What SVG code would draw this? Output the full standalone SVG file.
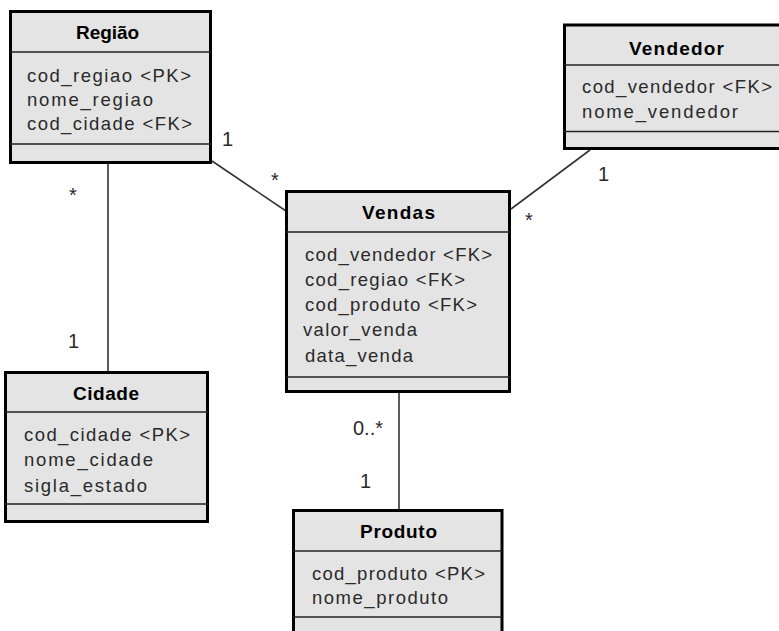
<svg xmlns="http://www.w3.org/2000/svg" width="779" height="631" viewBox="0 0 779 631">
<style>
.box{fill:#e4e4e4;stroke:#000;stroke-width:3}
.div{stroke:#222;stroke-width:1.5}
.title{font-family:"Liberation Sans",Arial,sans-serif;font-size:19px;font-weight:bold;fill:#000;text-anchor:middle}
.attr{font-family:"Liberation Sans",Arial,sans-serif;font-size:18.5px;fill:#2a2a2a}
.mult{font-family:"Liberation Sans",Arial,sans-serif;font-size:20px;fill:#2a2a2a}
.conn{stroke:#333;stroke-width:1.6;fill:none}
</style>
<rect width="779" height="631" fill="#fff"/>
<g id="connectors">
<line class="conn" x1="108" y1="164" x2="108" y2="371"/>
<line class="conn" x1="212" y1="161" x2="286" y2="211"/>
<line class="conn" x1="590" y1="150" x2="511" y2="209"/>
<line class="conn" x1="399" y1="393" x2="399" y2="509"/>
<text class="mult" x="222" y="146">1</text>
<text class="mult" x="271" y="187">*</text>
<text class="mult" x="69" y="202">*</text>
<text class="mult" x="68" y="348">1</text>
<text class="mult" x="598" y="181">1</text>
<text class="mult" x="525" y="227">*</text>
<text class="mult" x="353" y="435">0..*</text>
<text class="mult" x="360" y="488">1</text>
</g>
<g id="regiao">
<rect class="box" x="10.5" y="11.5" width="200" height="151"/>
<line class="div" x1="10" y1="52" x2="211" y2="52"/>
<line class="div" x1="10" y1="144" x2="211" y2="144"/>
<text class="title" x="107.5" y="39" textLength="63" lengthAdjust="spacing">Região</text>
<text class="attr" x="27" y="82" textLength="164" lengthAdjust="spacing">cod_regiao &lt;PK&gt;</text>
<text class="attr" x="27" y="106" textLength="126" lengthAdjust="spacing">nome_regiao</text>
<text class="attr" x="27" y="130" textLength="165" lengthAdjust="spacing">cod_cidade &lt;FK&gt;</text>
</g>
<g id="vendedor">
<rect class="box" x="564.5" y="25" width="230" height="123.5"/>
<line class="div" x1="564" y1="65" x2="790" y2="65"/>
<line class="div" x1="564" y1="131.5" x2="790" y2="131.5"/>
<text class="title" x="676.5" y="55" textLength="95" lengthAdjust="spacing">Vendedor</text>
<text class="attr" x="582" y="93" textLength="190" lengthAdjust="spacing">cod_vendedor &lt;FK&gt;</text>
<text class="attr" x="582" y="118" textLength="156" lengthAdjust="spacing">nome_vendedor</text>
</g>
<g id="vendas">
<rect class="box" x="286.5" y="191.5" width="223" height="200"/>
<line class="div" x1="286" y1="232" x2="510" y2="232"/>
<line class="div" x1="286" y1="377" x2="510" y2="377"/>
<text class="title" x="398.5" y="219" textLength="73" lengthAdjust="spacing">Vendas</text>
<text class="attr" x="305" y="261" textLength="187" lengthAdjust="spacing">cod_vendedor &lt;FK&gt;</text>
<text class="attr" x="305" y="286" textLength="160" lengthAdjust="spacing">cod_regiao &lt;FK&gt;</text>
<text class="attr" x="305" y="311" textLength="172" lengthAdjust="spacing">cod_produto &lt;FK&gt;</text>
<text class="attr" x="303" y="336" textLength="114" lengthAdjust="spacing">valor_venda</text>
<text class="attr" x="305" y="362" textLength="108" lengthAdjust="spacing">data_venda</text>
</g>
<g id="cidade">
<rect class="box" x="5.5" y="372.5" width="202" height="149"/>
<line class="div" x1="5" y1="412" x2="208" y2="412"/>
<line class="div" x1="5" y1="504" x2="208" y2="504"/>
<text class="title" x="106" y="400" textLength="66" lengthAdjust="spacing">Cidade</text>
<text class="attr" x="24" y="441" textLength="166" lengthAdjust="spacing">cod_cidade &lt;PK&gt;</text>
<text class="attr" x="24" y="466" textLength="129" lengthAdjust="spacing">nome_cidade</text>
<text class="attr" x="24" y="492" textLength="123" lengthAdjust="spacing">sigla_estado</text>
</g>
<g id="produto">
<rect class="box" x="293.5" y="510.5" width="208.5" height="140"/>
<line class="div" x1="293" y1="551" x2="502" y2="551"/>
<line class="div" x1="293" y1="617" x2="502" y2="617"/>
<text class="title" x="398.5" y="538" textLength="77" lengthAdjust="spacing">Produto</text>
<text class="attr" x="312" y="580" textLength="173" lengthAdjust="spacing">cod_produto &lt;PK&gt;</text>
<text class="attr" x="312" y="604" textLength="136" lengthAdjust="spacing">nome_produto</text>
</g>
</svg>
